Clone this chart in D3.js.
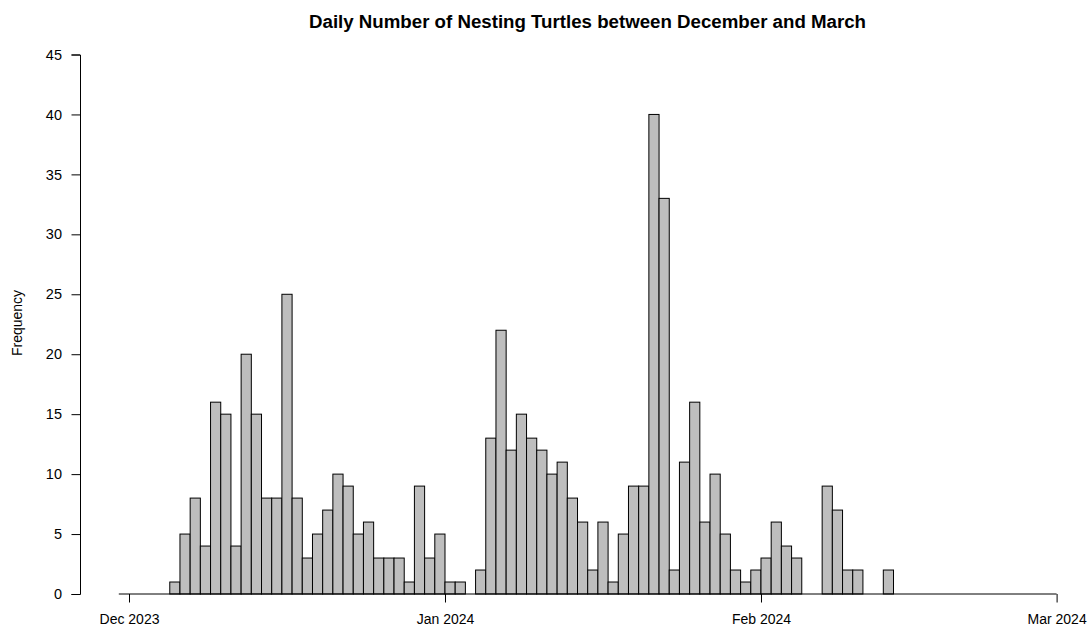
<!DOCTYPE html>
<html>
<head>
<meta charset="utf-8">
<script src="https://cdn.jsdelivr.net/npm/d3@7"></script>
<style>
  html, body { margin: 0; padding: 0; background: #fff; }
  svg { display: block; font-family: "Liberation Sans", Arial, sans-serif; }
</style>
</head>
<body>
<svg id="chart" width="1088" height="625"></svg>
<script>
// Daily nest counts, one value per day starting on the first date below
const firstDay = "2023-12-05";
const dailyCounts = [
  1, 5, 8, 4, 16, 15, 4, 20, 15, 8, 8, 25, 8, 3, 5, 7, 10, 9, 5, 6, 3, 3, 3, 1, 9, 3, 5,
  1, 1, 0, 2, 13, 22, 12, 15, 13, 12, 10, 11, 8, 6, 2, 6, 1, 5, 9, 9, 40, 33, 2, 11, 16,
  6, 10, 5, 2, 1, 2, 3, 6, 4, 3, 0, 0, 9, 7, 2, 2, 0, 0, 2
];
// Month ticks on the date axis
const monthTicks = ["2023-12-01", "2024-01-01", "2024-02-01", "2024-03-01"];
const monthLabels = ["Dec 2023", "Jan 2024", "Feb 2024", "Mar 2024"];
const axisStart = "2023-11-30";
const yTicks = [0, 5, 10, 15, 20, 25, 30, 35, 40, 45];

const parse = d3.utcParse("%Y-%m-%d");
const start = parse(firstDay);
const bins = dailyCounts.map((n, i) => ({
  x0: d3.utcDay.offset(start, i),
  x1: d3.utcDay.offset(start, i + 1),
  n
}));

const svg = d3.select("#chart");

const x = d3.scaleUtc()
  .domain([parse(monthTicks[0]), parse(monthTicks[monthTicks.length - 1])])
  .range([129, 1056.6]);

const y = d3.scaleLinear().domain([0, 45]).range([594, 54.5]);

// Bars
svg.append("g")
  .selectAll("rect")
  .data(bins.filter(d => d.n > 0))
  .join("rect")
  .attr("x", d => x(d.x0))
  .attr("width", d => x(d.x1) - x(d.x0))
  .attr("y", d => y(d.n))
  .attr("height", d => y(0) - y(d.n))
  .attr("fill", "#bebebe")
  .attr("stroke", "#000")
  .attr("stroke-width", 1);

// Date axis
const xAxis = svg.append("g")
  .attr("transform", `translate(0,${y(0)})`)
  .call(d3.axisBottom(x)
    .tickValues(monthTicks.map(parse))
    .tickFormat((d, i) => monthLabels[i])
    .tickSizeOuter(0)
    .tickSize(8.5)
    .tickPadding(8));
xAxis.select(".domain")
  .attr("d", `M${x(parse(axisStart))},0H${x(parse(monthTicks[monthTicks.length - 1]))}`);
xAxis.selectAll("text")
  .attr("font-size", "14px")
  .attr("font-family", "Liberation Sans, Arial, sans-serif")
  .attr("fill", "#000")
  .attr("dy", null)
  .attr("y", 29.5);
xAxis.selectAll("line, path").attr("stroke", "#000");

// Frequency axis
const yAxis = svg.append("g")
  .attr("transform", "translate(80,0)")
  .call(d3.axisLeft(y)
    .tickValues(yTicks)
    .tickSizeOuter(0)
    .tickSize(8.5)
    .tickPadding(9.5));
yAxis.selectAll("text")
  .attr("font-size", "14.5px")
  .attr("font-family", "Liberation Sans, Arial, sans-serif")
  .attr("fill", "#000");
yAxis.selectAll("line, path").attr("stroke", "#000");

// Axis title
svg.append("text")
  .attr("transform", "translate(22,323) rotate(-90)")
  .attr("text-anchor", "middle")
  .attr("font-size", "14px")
  .attr("fill", "#000")
  .text("Frequency");

// Chart title
svg.append("text")
  .attr("x", 587.5)
  .attr("y", 27.7)
  .attr("text-anchor", "middle")
  .attr("font-size", "17.5px")
  .attr("font-weight", "bold")
  .attr("fill", "#000")
  .attr("textLength", 557)
  .attr("lengthAdjust", "spacingAndGlyphs")
  .text("Daily Number of Nesting Turtles between December and March");
</script>
</body>
</html>
